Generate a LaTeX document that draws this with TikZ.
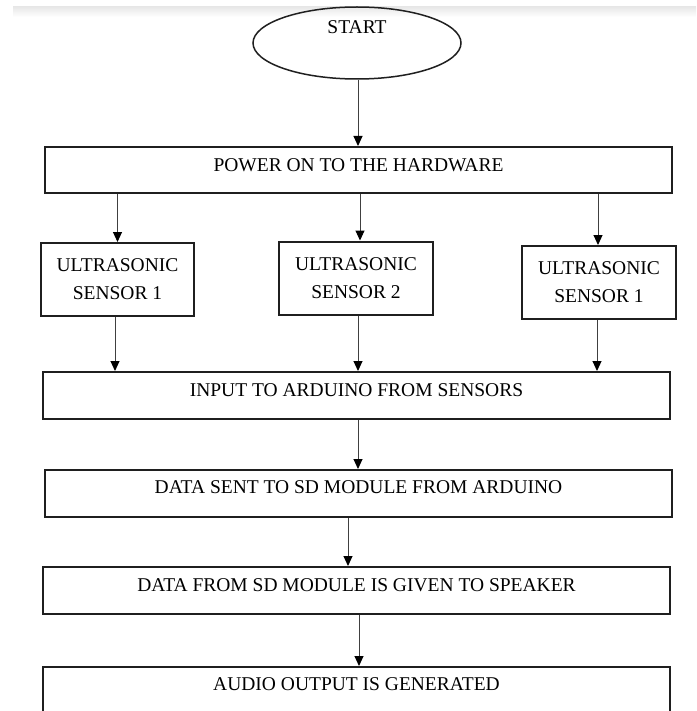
\documentclass[tikz,border=0pt]{standalone}
\usepackage{fontspec}
\setmainfont{Liberation Serif}
\usetikzlibrary{arrows.meta,shapes.geometric}
\begin{document}
\begin{tikzpicture}[x=1pt,y=-1pt,
  flowbox/.style={draw=black!88,line width=2pt,rectangle,inner sep=0pt,minimum width=627pt,minimum height=47pt},
  lbl/.style={font=\fontsize{19.5}{27}\selectfont,inner sep=0pt,anchor=base},
  sensor/.style={draw=black!88,line width=2pt,rectangle,inner sep=0pt,minimum width=153pt,minimum height=73pt,align=center,font=\fontsize{19.5}{28}\selectfont},
  conn/.style={draw=black!75,line width=1pt,-{Triangle[length=10pt,width=9pt,color=black,fill=black]}}]
\useasboundingbox (0,0) rectangle (696,711);
\clip (0,0) rectangle (696,711);
\fill[white] (0,0) rectangle (696,711);
\fill[top color=black!9,bottom color=white] (13,7) rectangle (696,17);
% start
\node[ellipse,draw=black!88,line width=1.5pt,minimum width=208pt,minimum height=72pt,inner sep=0pt] (st) at (357,43) {};
\node[lbl] (st-t) at (357,33.5) {START};
% power
\node[flowbox,minimum height=46pt] (pw) at (358.5,170) {};
\node[lbl] (pw-t) at ([yshift=-25.5pt]pw.north) {POWER ON TO THE HARDWARE};
% sensors
\node[sensor] (s1) at (117.5,279.5) {ULTRASONIC\\SENSOR 1};
\node[sensor,minimum width=154pt] (s2) at (356,278) {ULTRASONIC\\SENSOR 2};
\node[sensor,minimum width=154pt] (s3) at (599,282.5) {ULTRASONIC\\SENSOR 1};
% input
\node[flowbox] (in) at (356.5,395.5) {};
\node[lbl] (in-t) at ([yshift=-25.5pt]in.north) {INPUT TO ARDUINO FROM SENSORS};
% data sent
\node[flowbox] (dt) at (358.5,493.5) {};
\node[lbl] (dt-t) at ([yshift=-24.5pt]dt.north) {DATA SENT TO SD MODULE FROM ARDUINO};
% speaker
\node[flowbox] (sp) at (356.5,590.5) {};
\node[lbl] (sp-t) at ([yshift=-25.5pt]sp.north) {DATA FROM SD MODULE IS GIVEN TO SPEAKER};
% audio
\node[flowbox,minimum height=73pt] (au) at (356.5,703.5) {};
\node[lbl] (au-t) at ([yshift=-24.5pt]au.north) {AUDIO OUTPUT IS GENERATED};
% connectors
\draw[conn] ([xshift=1pt]st.south) -- ([xshift=1pt]st.south |- pw.north);
\draw[conn] (s1.north |- pw.south) -- (s1.north);
\draw[conn] ([xshift=4pt]s2.north |- pw.south) -- ([xshift=4pt]s2.north);
\draw[conn] ([xshift=-1pt]s3.north |- pw.south) -- ([xshift=-1pt]s3.north);
\draw[conn] ([xshift=-2.5pt]s1.south) -- ([xshift=-2.5pt]s1.south |- in.north);
\draw[conn] ([xshift=2pt]s2.south) -- ([xshift=2pt]s2.south |- in.north);
\draw[conn] ([xshift=-2pt]s3.south) -- ([xshift=-2pt]s3.south |- in.north);
\draw[conn] ([xshift=1.5pt]in.south) -- ([xshift=1.5pt]in.south |- dt.north);
\draw[conn] ([xshift=-10.5pt]dt.south) -- ([xshift=-10.5pt]dt.south |- sp.north);
\draw[conn] ([xshift=2.5pt]sp.south) -- ([xshift=2.5pt]sp.south |- au.north);
\end{tikzpicture}
\end{document}
